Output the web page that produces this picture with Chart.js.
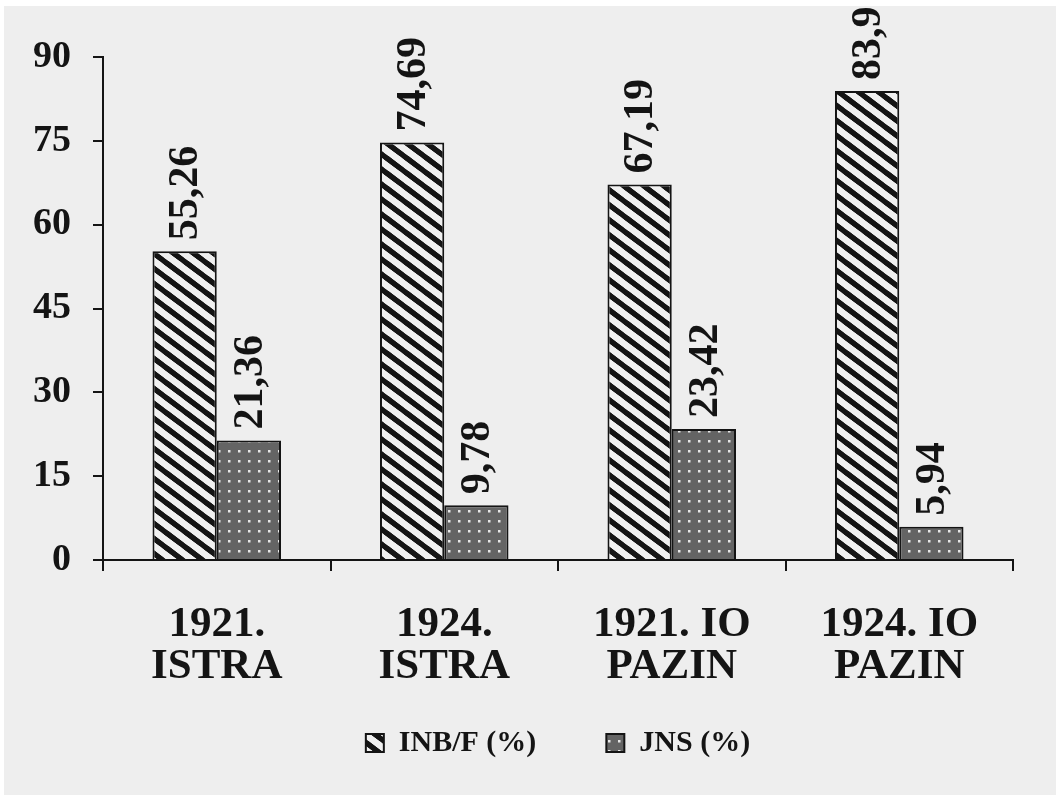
<!DOCTYPE html>
<html>
<head>
<meta charset="utf-8">
<script src="https://cdn.jsdelivr.net/npm/chart.js@4.4.1/dist/chart.umd.min.js"></script>
<style>
  html, body { margin: 0; padding: 0; background: #ffffff; }
  #wrap { position: absolute; left: 4px; top: 6px; width: 1052px; height: 789px; }
  canvas { display: block; }
</style>
</head>
<body>
<div id="wrap"><canvas id="c" width="1052" height="789"></canvas></div>
<script>
const categories = [["1921.", "ISTRA"], ["1924.", "ISTRA"], ["1921. IO", "PAZIN"], ["1924. IO", "PAZIN"]];
const inbValues = [55.26, 74.69, 67.19, 83.9];
const jnsValues = [21.36, 9.78, 23.42, 5.94];
const seriesNames = ["INB/F (%)", "JNS (%)"];
const yMin = 0, yMax = 90, yStep = 15;

const FONT = "'Liberation Serif', 'Times New Roman', serif";
const INK = "#141414";
const BG = "#eeeeee";

function stripePattern() {
  const w = 20, h = 15;
  const c = document.createElement('canvas');
  c.width = w; c.height = h;
  const g = c.getContext('2d');
  g.fillStyle = "#f0f0f0"; g.fillRect(0, 0, w, h);
  g.strokeStyle = INK; g.lineWidth = 5;
  for (const dx of [-w, 0, w]) {
    for (const dy of [-h, 0, h]) {
      g.beginPath(); g.moveTo(dx - w, dy - h); g.lineTo(dx + 2 * w, dy + 2 * h); g.stroke();
    }
  }
  return document.getElementById('c').getContext('2d').createPattern(c, 'repeat');
}
function dotPattern() {
  const s = 10;
  const c = document.createElement('canvas');
  c.width = s; c.height = s;
  const g = c.getContext('2d');
  g.fillStyle = "#646464"; g.fillRect(0, 0, s, s);
  g.fillStyle = "#e8e8e8"; g.fillRect(4, 4, 2.5, 2.5);
  return document.getElementById('c').getContext('2d').createPattern(c, 'repeat');
}

const bgPlugin = {
  id: 'bg',
  beforeDraw(chart) {
    const ctx = chart.ctx;
    ctx.save(); ctx.fillStyle = BG; ctx.fillRect(0, 0, chart.width, chart.height); ctx.restore();
  },
  afterLayout(chart) {
    // let the two-line category labels extend below the axis box without being clipped
    chart.scales.x.bottom = chart.height;
  }
};
const valueLabels = {
  id: 'valueLabels',
  afterDatasetsDraw(chart) {
    const ctx = chart.ctx;
    ctx.save();
    ctx.fillStyle = INK;
    ctx.font = "bold 42px " + FONT;
    ctx.textAlign = 'left';
    ctx.textBaseline = 'middle';
    chart.data.datasets.forEach((ds, di) => {
      const meta = chart.getDatasetMeta(di);
      meta.data.forEach((el, i) => {
        const txt = String(ds.data[i]).replace('.', ',');
        ctx.save();
        ctx.translate(el.x + 2, el.y - 11);
        ctx.rotate(-Math.PI / 2);
        ctx.fillText(txt, 0, 0);
        ctx.restore();
      });
    });
    ctx.restore();
  }
};

new Chart(document.getElementById('c'), {
  type: 'bar',
  data: {
    labels: categories,
    datasets: [
      { label: seriesNames[0], data: inbValues, backgroundColor: stripePattern(), borderColor: INK, borderWidth: 2 },
      { label: seriesNames[1], data: jnsValues, backgroundColor: dotPattern(), borderColor: INK, borderWidth: 2 }
    ]
  },
  options: {
    responsive: false,
    animation: false,
    devicePixelRatio: 1,
    layout: { padding: { top: 51, right: 43, left: 0, bottom: 27 } },
    datasets: { bar: { categoryPercentage: 0.565, barPercentage: 1.0 } },
    plugins: {
      legend: {
        position: 'bottom',
        fullSize: false,
        labels: {
          color: INK,
          font: { family: FONT, size: 30, weight: 'bold' },
          boxWidth: 18, boxHeight: 18, padding: 70
        }
      },
      tooltip: { enabled: false }
    },
    scales: {
      x: {
        afterFit(s) { s.height = 98; },
        grid: { offset: true, drawOnChartArea: false, tickLength: 11, color: INK, lineWidth: 2 },
        border: { display: true, color: INK, width: 2 },
        ticks: { color: INK, padding: 33, maxRotation: 0, autoSkip: false,
                 font: { family: FONT, size: 43, weight: 'bold', lineHeight: 0.98 } }
      },
      y: {
        min: yMin, max: yMax,
        afterFit(s) { s.width = 99; },
        grid: { drawOnChartArea: false, tickLength: 10, color: INK, lineWidth: 2 },
        border: { display: true, color: INK, width: 2 },
        ticks: { stepSize: yStep, color: INK, padding: 22,
                 font: { family: FONT, size: 38, weight: 'bold' } }
      }
    }
  },
  plugins: [bgPlugin, valueLabels]
});
</script>
</body>
</html>
